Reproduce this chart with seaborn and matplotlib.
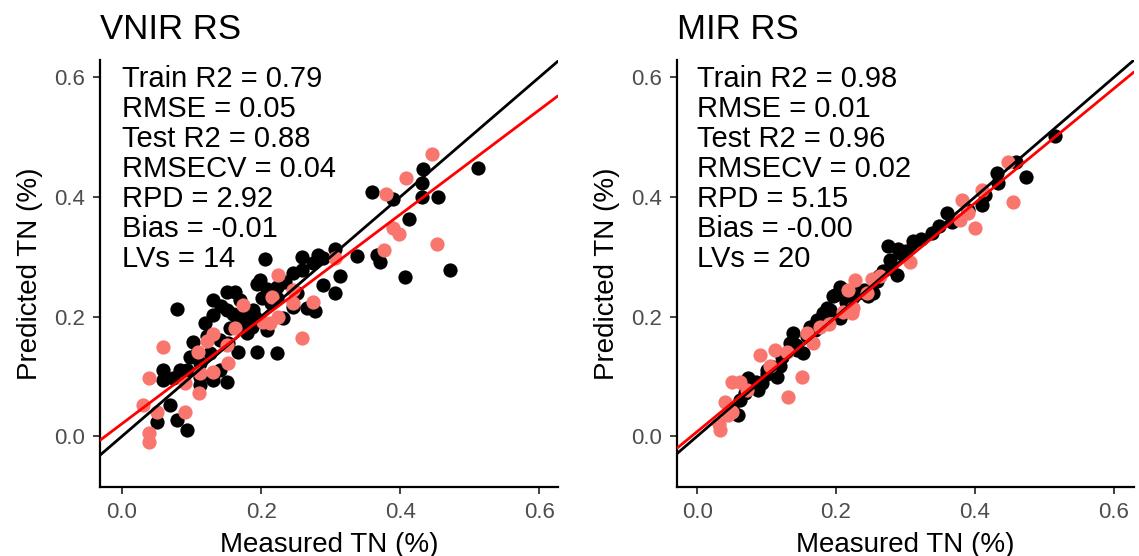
import matplotlib
matplotlib.use("Agg")
import matplotlib.pyplot as plt
import seaborn as sns
import pandas as pd

# ---------------- data ----------------
panel_titles = ["VNIR RS", "MIR RS"]

vnir_train_measured = [0.512, 0.433, 0.432, 0.360, 0.390, 0.432, 0.455, 0.413, 0.338, 0.367,
                       0.371, 0.306, 0.314, 0.289, 0.306, 0.407, 0.472, 0.206, 0.259, 0.282,
                       0.289, 0.275, 0.246, 0.259, 0.194, 0.209, 0.223, 0.213, 0.223, 0.246,
                       0.266, 0.278, 0.188, 0.191, 0.209, 0.194, 0.223, 0.079, 0.151, 0.163,
                       0.131, 0.151, 0.180, 0.131, 0.119, 0.165, 0.187, 0.180, 0.102, 0.141,
                       0.153, 0.127, 0.167, 0.098, 0.108, 0.059, 0.083, 0.094, 0.059, 0.073,
                       0.112, 0.112, 0.131, 0.151, 0.069, 0.050, 0.079, 0.094, 0.141, 0.112,
                       0.170, 0.235, 0.201, 0.177, 0.155, 0.232, 0.142, 0.198, 0.252, 0.122,
                       0.160, 0.215]
vnir_train_predicted = [0.448, 0.446, 0.423, 0.408, 0.396, 0.400, 0.400, 0.363, 0.301, 0.303,
                        0.291, 0.313, 0.268, 0.253, 0.239, 0.266, 0.278, 0.296, 0.299, 0.303,
                        0.298, 0.289, 0.273, 0.278, 0.254, 0.247, 0.249, 0.232, 0.231, 0.216,
                        0.214, 0.209, 0.211, 0.199, 0.177, 0.140, 0.139, 0.212, 0.241, 0.241,
                        0.227, 0.211, 0.211, 0.202, 0.189, 0.197, 0.182, 0.172, 0.157, 0.161,
                        0.156, 0.139, 0.140, 0.132, 0.139, 0.110, 0.110, 0.110, 0.094, 0.097,
                        0.099, 0.085, 0.094, 0.090, 0.052, 0.023, 0.027, 0.010, 0.110, 0.122,
                        0.227, 0.258, 0.231, 0.191, 0.181, 0.197, 0.218, 0.262, 0.240, 0.168,
                        0.205, 0.222]
vnir_test_measured = [0.446, 0.409, 0.380, 0.390, 0.399, 0.453, 0.377, 0.306, 0.224, 0.246,
                      0.216, 0.246, 0.275, 0.174, 0.224, 0.213, 0.203, 0.259, 0.163, 0.131,
                      0.122, 0.059, 0.151, 0.109, 0.153, 0.131, 0.112, 0.091, 0.039, 0.111,
                      0.030, 0.050, 0.091, 0.039, 0.039]
vnir_test_predicted = [0.472, 0.431, 0.405, 0.348, 0.338, 0.321, 0.311, 0.298, 0.269, 0.244,
                       0.232, 0.222, 0.224, 0.219, 0.199, 0.189, 0.191, 0.164, 0.181, 0.171,
                       0.159, 0.149, 0.152, 0.140, 0.122, 0.107, 0.105, 0.089, 0.097, 0.072,
                       0.052, 0.040, 0.040, 0.005, -0.010]

mir_train_measured = [0.515, 0.459, 0.432, 0.433, 0.473, 0.414, 0.410, 0.390, 0.360, 0.367,
                      0.338, 0.311, 0.275, 0.289, 0.295, 0.278, 0.278, 0.288, 0.259, 0.253,
                      0.246, 0.206, 0.196, 0.187, 0.206, 0.181, 0.173, 0.163, 0.153, 0.138,
                      0.134, 0.144, 0.122, 0.109, 0.101, 0.094, 0.088, 0.073, 0.069, 0.062,
                      0.059, 0.050, 0.081, 0.115, 0.191, 0.199, 0.209, 0.170, 0.180, 0.215,
                      0.225, 0.240, 0.262, 0.300, 0.322, 0.120, 0.142, 0.158, 0.085, 0.076,
                      0.100, 0.232, 0.268, 0.348]
mir_train_predicted = [0.502, 0.458, 0.440, 0.423, 0.433, 0.403, 0.386, 0.378, 0.373, 0.358,
                       0.339, 0.326, 0.318, 0.313, 0.304, 0.294, 0.281, 0.269, 0.259, 0.239,
                       0.234, 0.249, 0.234, 0.214, 0.197, 0.206, 0.194, 0.182, 0.139, 0.172,
                       0.156, 0.144, 0.132, 0.115, 0.110, 0.089, 0.077, 0.097, 0.072, 0.060,
                       0.035, 0.048, 0.082, 0.099, 0.211, 0.236, 0.247, 0.178, 0.192, 0.225,
                       0.232, 0.245, 0.268, 0.310, 0.330, 0.118, 0.152, 0.168, 0.090, 0.086,
                       0.104, 0.240, 0.276, 0.352]
mir_test_measured = [0.447, 0.410, 0.381, 0.390, 0.378, 0.400, 0.455, 0.306, 0.252, 0.263,
                     0.227, 0.217, 0.245, 0.224, 0.210, 0.177, 0.158, 0.167, 0.112, 0.091,
                     0.129, 0.151, 0.131, 0.050, 0.062, 0.040, 0.045, 0.033, 0.032, 0.050,
                     0.223, 0.072, 0.105, 0.190]
mir_test_predicted = [0.458, 0.411, 0.395, 0.373, 0.361, 0.349, 0.391, 0.291, 0.263, 0.268,
                      0.261, 0.244, 0.239, 0.214, 0.207, 0.182, 0.172, 0.156, 0.144, 0.135,
                      0.140, 0.099, 0.065, 0.090, 0.090, 0.057, 0.035, 0.010, 0.020, 0.040,
                      0.206, 0.078, 0.118, 0.188]

# fitted (red) regression lines: intercept, slope
vnir_fit = (0.021, 0.874)
mir_fit = (0.0077, 0.956)

vnir_stats = ["Train R2 = 0.79", "RMSE = 0.05", "Test R2 = 0.88", "RMSECV = 0.04",
              "RPD = 2.92", "Bias = -0.01", "LVs = 14"]
mir_stats = ["Train R2 = 0.98", "RMSE = 0.01", "Test R2 = 0.96", "RMSECV = 0.02",
             "RPD = 5.15", "Bias = -0.00", "LVs = 20"]

tick_values = [0.0, 0.2, 0.4, 0.6]
tick_labels = ["0.0", "0.2", "0.4", "0.6"]
x_label = "Measured TN (%)"
y_label = "Predicted TN (%)"

# ---------------- plotting ----------------
sns.set_style("ticks")
plt.rcParams["font.family"] = ["Liberation Sans", "DejaVu Sans"]
plt.rcParams["text.color"] = "black"
plt.rcParams["axes.labelcolor"] = "black"

fig = plt.figure(figsize=(11.39, 5.56), dpi=100)
ax_l = fig.add_axes([0.0878, 0.124, 0.402, 0.768])
ax_r = fig.add_axes([0.5944, 0.124, 0.4012, 0.768])

panels = [
    (ax_l, vnir_train_measured, vnir_train_predicted, vnir_test_measured, vnir_test_predicted,
     vnir_fit, vnir_stats, panel_titles[0], (-0.0317, 0.627)),
    (ax_r, mir_train_measured, mir_train_predicted, mir_test_measured, mir_test_predicted,
     mir_fit, mir_stats, panel_titles[1], (-0.029, 0.629)),
]

for ax, trx, try_, tex, tey, fit, stats, title, xlim in panels:
    train = pd.DataFrame({"measured": trx, "predicted": try_})
    test = pd.DataFrame({"measured": tex, "predicted": tey})
    sns.scatterplot(data=train, x="measured", y="predicted", ax=ax, color="black",
                    s=105, linewidth=0, zorder=2)
    sns.scatterplot(data=test, x="measured", y="predicted", ax=ax, color="#F8766D",
                    s=105, linewidth=0, zorder=3)
    ax.axline((0, 0), slope=1, color="black", lw=2.0, zorder=4)
    ax.axline((0, fit[0]), slope=fit[1], color="#FF0000", lw=2.0, zorder=5)

    ax.set_xlim(*xlim)
    ax.set_ylim(-0.085, 0.629)
    ax.set_xticks(tick_values)
    ax.set_xticklabels(tick_labels)
    ax.set_yticks(tick_values)
    ax.set_yticklabels(tick_labels)
    ax.tick_params(axis="both", labelsize=16, labelcolor="#4D4D4D", color="#333333",
                   length=5, width=1.3, pad=6)
    for s in ["left", "bottom"]:
        ax.spines[s].set_linewidth(1.6)
        ax.spines[s].set_color("black")
    sns.despine(ax=ax)

    ax.set_xlabel(x_label, fontsize=20, labelpad=6, color="black")
    ax.set_ylabel(y_label, fontsize=20, labelpad=8, color="black")
    ax.set_title(title, loc="left", fontsize=25, pad=15, color="black")

    for i, line in enumerate(stats):
        ax.annotate(line, xy=(0.0, 1.0), xycoords=("data", "axes fraction"),
                    xytext=(0, -(19.5 + 21.6 * i)), textcoords="offset points",
                    va="baseline", ha="left", fontsize=21, color="black")

fig.savefig("out.png", dpi=100)
